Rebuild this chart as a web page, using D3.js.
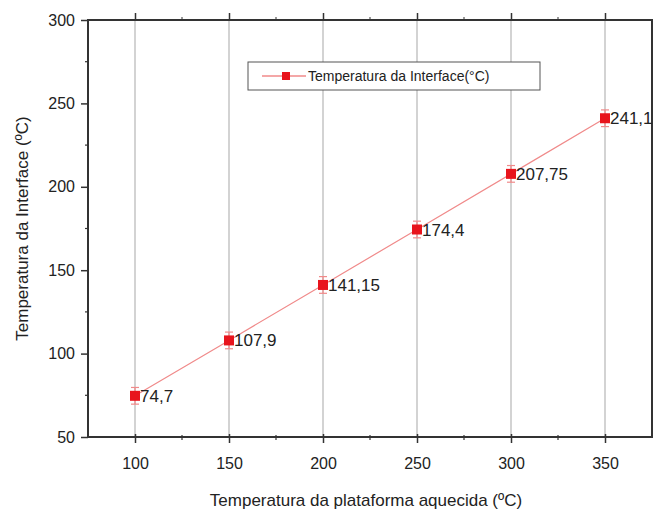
<!DOCTYPE html>
<html>
<head>
<meta charset="utf-8">
<script src="https://cdn.jsdelivr.net/npm/d3@7"></script>
<style>
    body { margin: 0; background: #fff; }
    svg { display: block; font-family: Arial, "Liberation Sans", sans-serif; }
</style>
</head>
<body>
<div id="chart"></div>
<script>
// chart data
const platformTemps = [100, 150, 200, 250, 300, 350];
const interfaceTemps = [74.7, 107.9, 141.15, 174.4, 207.75, 241.1];
const pointLabels = ["74,7", "107,9", "141,15", "174,4", "207,75", "241,1"];
const errors = [5, 5, 5, 5, 5, 5];
const xTicks = [100, 150, 200, 250, 300, 350];
const yTicks = [50, 100, 150, 200, 250, 300];

const WIDTH = 654;
const HEIGHT = 514;
const MARGIN = {top: 20, right: 2, bottom: 77, left: 88};
const LINE_COLOR = "#f08a8a";
const MARKER_COLOR = "#e8141c";
const TEXT_COLOR = "#222";

const svg = d3.select("#chart")
    .append("svg")
    .attr("width", WIDTH)
    .attr("height", HEIGHT);

const x = d3.scaleLinear().domain([75, 375]).range([MARGIN.left, WIDTH - MARGIN.right]);
const y = d3.scaleLinear().domain([50, 300]).range([HEIGHT - MARGIN.bottom, MARGIN.top]);

const plotLeft = x.range()[0], plotRight = x.range()[1];
const plotTop = y.range()[1], plotBottom = y.range()[0];

// vertical grid
svg.append("g")
    .selectAll("line")
    .data(xTicks)
    .enter()
    .append("line")
    .attr("x1", d => x(d)).attr("x2", d => x(d))
    .attr("y1", plotTop).attr("y2", plotBottom)
    .attr("stroke", "#c4c4c4")
    .attr("stroke-width", 1.5);

// minor tick values
const xMinor = d3.range(125, 375, 50);
const yMinor = d3.range(75, 300, 50);

// bottom axis
const xAxis = svg.append("g")
    .attr("transform", `translate(0,${plotBottom})`)
    .call(d3.axisBottom(x).tickValues(xTicks).tickSize(6).tickPadding(15));
xAxis.select(".domain").remove();
xAxis.selectAll(".tick line").attr("y1", -3).attr("stroke", "#333").attr("stroke-width", 1.5);
xAxis.selectAll(".tick text").attr("font-size", 16).attr("fill", TEXT_COLOR);
xAxis.append("g").selectAll("line").data(xMinor).enter().append("line")
    .attr("x1", d => x(d)).attr("x2", d => x(d))
    .attr("y1", -2).attr("y2", 3)
    .attr("stroke", "#333").attr("stroke-width", 1.2);

// top axis (ticks only)
const xTop = svg.append("g")
    .attr("transform", `translate(0,${plotTop})`)
    .call(d3.axisTop(x).tickValues(xTicks).tickSize(7).tickFormat(""));
xTop.select(".domain").remove();
xTop.selectAll(".tick line").attr("stroke", "#333").attr("stroke-width", 1.5);
xTop.append("g").selectAll("line").data(xMinor).enter().append("line")
    .attr("x1", d => x(d)).attr("x2", d => x(d))
    .attr("y1", -3).attr("y2", 0)
    .attr("stroke", "#555").attr("stroke-width", 1.2);

// left axis
const yAxis = svg.append("g")
    .attr("transform", `translate(${plotLeft},0)`)
    .call(d3.axisLeft(y).tickValues(yTicks).tickSize(7).tickPadding(6));
yAxis.select(".domain").remove();
yAxis.selectAll(".tick line").attr("stroke", "#333").attr("stroke-width", 1.5);
yAxis.selectAll(".tick text").attr("font-size", 16).attr("fill", TEXT_COLOR);
yAxis.append("g").selectAll("line").data(yMinor).enter().append("line")
    .attr("x1", -3).attr("x2", 0)
    .attr("y1", d => y(d)).attr("y2", d => y(d))
    .attr("stroke", "#333").attr("stroke-width", 1.2);

// frame
svg.append("rect")
    .attr("x", plotLeft).attr("y", plotTop)
    .attr("width", plotRight - plotLeft).attr("height", plotBottom - plotTop)
    .attr("fill", "none")
    .attr("stroke", "#333")
    .attr("stroke-width", 2);

// connecting line
const line = d3.line()
    .x((d, i) => x(platformTemps[i]))
    .y(d => y(d));

svg.append("path")
    .datum(interfaceTemps)
    .attr("d", line)
    .attr("fill", "none")
    .attr("stroke", LINE_COLOR)
    .attr("stroke-width", 1.2);

// error bars
const err = svg.append("g");
interfaceTemps.forEach((v, i) => {
    const cx = x(platformTemps[i]);
    err.append("line")
        .attr("x1", cx).attr("x2", cx)
        .attr("y1", y(v - errors[i])).attr("y2", y(v + errors[i]))
        .attr("stroke", LINE_COLOR).attr("stroke-width", 1.2);
    [v - errors[i], v + errors[i]].forEach(e => {
        err.append("line")
            .attr("x1", cx - 4).attr("x2", cx + 4)
            .attr("y1", y(e)).attr("y2", y(e))
            .attr("stroke", LINE_COLOR).attr("stroke-width", 1.2);
    });
});

// markers
svg.append("g")
    .selectAll("rect")
    .data(interfaceTemps)
    .enter()
    .append("rect")
    .attr("x", (d, i) => x(platformTemps[i]) - 5)
    .attr("y", d => y(d) - 5)
    .attr("width", 10).attr("height", 10)
    .attr("fill", MARKER_COLOR);

// point labels
svg.append("g")
    .selectAll("text")
    .data(interfaceTemps)
    .enter()
    .append("text")
    .attr("x", (d, i) => x(platformTemps[i]) + 5)
    .attr("y", d => y(d) + 6)
    .attr("font-size", 17)
    .attr("fill", TEXT_COLOR)
    .text((d, i) => pointLabels[i]);

// legend
const legend = svg.append("g").attr("transform", "translate(248,62)");
legend.append("rect")
    .attr("width", 292).attr("height", 28)
    .attr("fill", "#fff")
    .attr("stroke", "#555")
    .attr("stroke-width", 1);
legend.append("line")
    .attr("x1", 14).attr("x2", 58).attr("y1", 14).attr("y2", 14)
    .attr("stroke", LINE_COLOR).attr("stroke-width", 1.5);
legend.append("rect")
    .attr("x", 34).attr("y", 10).attr("width", 8).attr("height", 8)
    .attr("fill", MARKER_COLOR);
legend.append("text")
    .attr("x", 60).attr("y", 19)
    .attr("font-size", 14)
    .attr("fill", TEXT_COLOR)
    .text("Temperatura da Interface(°C)");

// axis titles
svg.append("text")
    .attr("x", (plotLeft + plotRight) / 2 - 4)
    .attr("y", 506)
    .attr("text-anchor", "middle")
    .attr("font-size", 17)
    .attr("fill", TEXT_COLOR)
    .text("Temperatura da plataforma aquecida (ºC)");

svg.append("text")
    .attr("transform", `translate(28,${(plotTop + plotBottom) / 2}) rotate(-90)`)
    .attr("text-anchor", "middle")
    .attr("font-size", 17)
    .attr("fill", TEXT_COLOR)
    .text("Temperatura da Interface (ºC)");
</script>
</body>
</html>
